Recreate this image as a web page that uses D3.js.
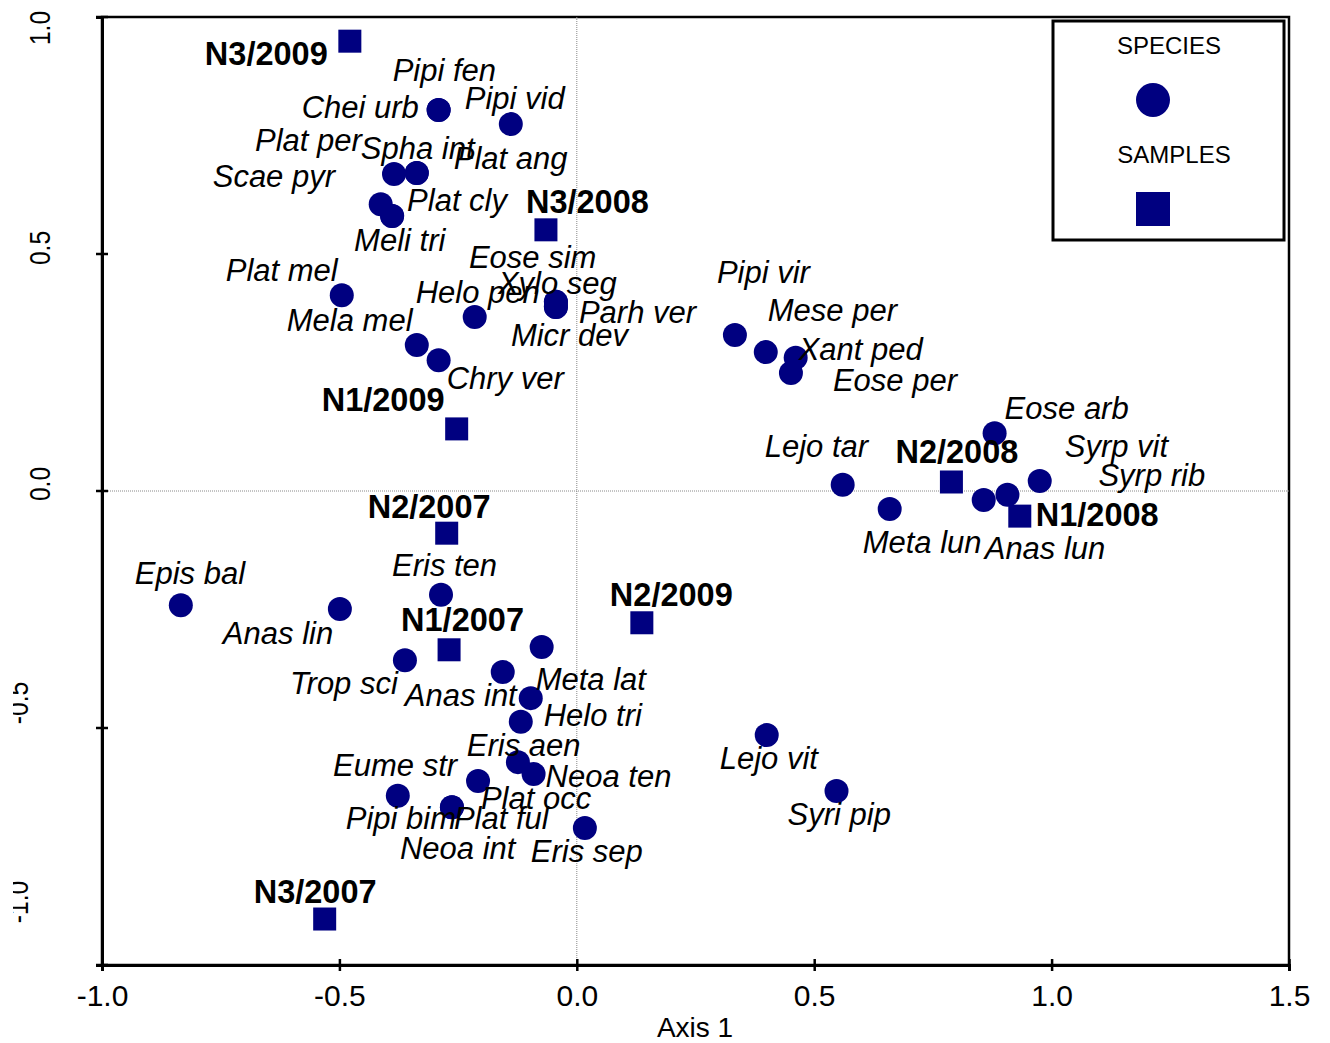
<!DOCTYPE html>
<html>
<head>
<meta charset="utf-8">
<script src="https://cdn.jsdelivr.net/npm/d3@7"></script>
<style>
  body { margin: 0; background: #fff; }
  text { font-family: "Liberation Sans", Arial, sans-serif; fill: #000; }
</style>
</head>
<body>
<div id="chart"></div>
<script>
// species scores (circles)
var speciesNames = ["Pipi fen", "Chei urb", "Pipi vid", "Plat per", "Spha int", "Plat ang", "Scae pyr",
  "Plat cly", "Meli tri", "Plat mel", "Mela mel", "Chry ver", "Helo pen", "Eose sim", "Xylo seg",
  "Parh ver", "Micr dev", "Pipi vir", "Mese per", "Xant ped", "Eose per", "Eose arb", "Lejo tar",
  "Meta lun", "Anas lun", "Syrp vit", "Syrp rib", "Epis bal", "Anas lin", "Eris ten", "Trop sci",
  "Anas int", "Meta lat", "Helo tri", "Eris aen", "Plat occ", "Neoa ten", "Eume str", "Pipi bim",
  "Plat ful", "Neoa int", "Eris sep", "Lejo vit", "Syri pip"];
var speciesX = [-0.291, -0.291, -0.139, -0.385, -0.337, -0.337, -0.413,
  -0.389, -0.389, -0.495, -0.337, -0.291, -0.215, -0.044, -0.044,
  -0.044, -0.044, 0.333, 0.398, 0.461, 0.451, 0.880, 0.560,
  0.659, 0.857, 0.975, 0.907, -0.834, -0.499, -0.286, -0.362,
  -0.156, -0.074, -0.097, -0.118, -0.124, -0.091, -0.208, -0.377,
  -0.263, -0.263, 0.017, 0.400, 0.547];
var speciesY = [0.804, 0.804, 0.774, 0.669, 0.671, 0.671, 0.605,
  0.580, 0.580, 0.413, 0.308, 0.276, 0.367, 0.399, 0.399,
  0.388, 0.388, 0.329, 0.293, 0.281, 0.249, 0.122, 0.013,
  -0.038, -0.019, 0.021, -0.008, -0.241, -0.249, -0.219, -0.357,
  -0.382, -0.329, -0.437, -0.487, -0.572, -0.597, -0.612, -0.643,
  -0.667, -0.667, -0.711, -0.515, -0.633];

// sample scores (squares)
var sampleNames = ["N3/2009", "N3/2008", "N1/2009", "N2/2008", "N1/2008",
  "N2/2007", "N1/2007", "N2/2009", "N3/2007"];
var sampleX = [-0.478, -0.065, -0.253, 0.789, 0.933, -0.274, -0.269, 0.137, -0.531];
var sampleY = [0.949, 0.551, 0.131, 0.019, -0.053, -0.089, -0.335, -0.278, -0.903];

var xTicks = [-1.0, -0.5, 0.0, 0.5, 1.0, 1.5];
var yTicks = [-1.0, -0.5, 0.0, 0.5, 1.0];

// label placement, px from marker centre to label baseline start
var speciesLabelOffset = [[-46, -29], [-137, 8], [-46, -15], [-139, -23], [-56, -14], [37, -4], [-168, -17],
  [15, -5], [-38, 35], [-116, -14], [-130, -14], [8, 29], [-59, -14], [-87, -34], [-58, -8],
  [23, 16], [-45, 39], [-18, -52], [2, -31], [3, 2], [42, 18], [10, -14], [-78, -28],
  [-27, 44], [1, 59], [25, -24], [91, -9], [-46, -21], [-117, 35], [-49, -19], [-115, 34],
  [-98, 34], [-6, 43], [13, 28], [-54, 34], [-37, 47], [12, 13], [-145, -5], [-52, 33],
  [2, 22], [-52, 52], [-54, 34], [-47, 34], [-49, 34]];
var sampleLabelOffset = [[-145, 24], [-20, -17], [-135, -18], [-56, -19], [16, 10],
  [-79, -15], [-48, -19], [-32, -17], [-71, -16]];
// y tick labels sit a bit off their ticks in the original
var yLabelShift = [-63, -25, -7, -6, 11];

var width = 1330, height = 1043;
var navy = "#000080";
var fmt = function(d) { return d.toFixed(1); };

var svg = d3.select("#chart").append("svg")
    .attr("width", width)
    .attr("height", height);

var x = d3.scaleLinear().domain([-1, 1.5]).range([102, 1289]);
var y = d3.scaleLinear().domain([-1, 1]).range([965, 17]);

// the negative y labels are cut on their left in the original
svg.append("clipPath").attr("id", "ylabclip")
  .append("rect").attr("x", 13).attr("y", 0).attr("width", width).attr("height", height);

// frame
svg.append("rect")
    .attr("x", x(-1)).attr("y", y(1))
    .attr("width", x(1.5) - x(-1)).attr("height", y(-1) - y(1))
    .attr("fill", "none").attr("stroke", "#000").attr("stroke-width", 2.5);

// zero lines
svg.append("line")
    .attr("x1", x(0)).attr("x2", x(0)).attr("y1", y(1)).attr("y2", y(-1))
    .attr("stroke", "#888").attr("stroke-width", 1).attr("stroke-dasharray", "1,1");
svg.append("line")
    .attr("x1", x(-1)).attr("x2", x(1.5)).attr("y1", y(0)).attr("y2", y(0))
    .attr("stroke", "#888").attr("stroke-width", 1).attr("stroke-dasharray", "1,1");

// x axis
var xAxis = svg.append("g")
    .attr("transform", "translate(0," + y(-1) + ")")
    .call(d3.axisBottom(x).tickValues(xTicks).tickFormat(fmt).tickSizeOuter(0).tickSize(6).tickPadding(14));
xAxis.select(".domain").attr("stroke-width", 3);
xAxis.selectAll(".tick line").attr("y1", -6).attr("y2", 6).attr("stroke-width", 2.5);
xAxis.selectAll(".tick text")
    .attr("font-family", "Liberation Sans, Arial, sans-serif")
    .attr("font-size", 30)
    .attr("dy", "0.71em");

svg.append("text")
    .attr("x", 695).attr("y", 1037)
    .attr("text-anchor", "middle")
    .attr("font-size", 28)
    .text("Axis 1");

// y axis
var yAxis = svg.append("g")
    .attr("transform", "translate(" + x(-1) + ",0)")
    .call(d3.axisLeft(y).tickValues(yTicks).tickFormat(fmt).tickSizeOuter(0).tickSize(6));
yAxis.select(".domain").attr("stroke-width", 3);
yAxis.selectAll(".tick").attr("transform", null);
yAxis.selectAll(".tick line")
    .attr("x1", -6).attr("x2", 6).attr("stroke-width", 2.5)
    .attr("transform", function(d) { return "translate(0," + y(d) + ")"; });
yAxis.selectAll(".tick text")
    .attr("x", 0).attr("dy", null)
    .attr("text-anchor", "middle")
    .attr("font-family", "Liberation Sans, Arial, sans-serif")
    .attr("font-size", 30)
    .attr("transform", function(d, i) {
      return "translate(" + (50 - x(-1)) + "," + (y(d) + yLabelShift[i]) + ") rotate(-90) scale(0.82,1)";
    });
var negTicks = yAxis.selectAll(".tick").filter(function(d) { return d < 0; })
    .attr("clip-path", "url(#ylabclip)")
    .attr("transform", "translate(" + (-x(-1)) + ",0)");
negTicks.select("line")
    .attr("transform", function(d) { return "translate(" + x(-1) + "," + y(d) + ")"; });
negTicks.select("text")
    .attr("transform", function(d) {
      var i = yTicks.indexOf(d);
      return "translate(28," + (y(d) + yLabelShift[i]) + ") rotate(-90) scale(0.82,1)";
    });

// species
var species = speciesNames.map(function(n, i) {
  return { name: n, x: speciesX[i], y: speciesY[i], off: speciesLabelOffset[i] };
});
var samples = sampleNames.map(function(n, i) {
  return { name: n, x: sampleX[i], y: sampleY[i], off: sampleLabelOffset[i] };
});

svg.append("g").selectAll("circle")
    .data(species)
  .enter().append("circle")
    .attr("cx", function(d) { return x(d.x); })
    .attr("cy", function(d) { return y(d.y); })
    .attr("r", 12)
    .attr("fill", navy);

svg.append("g").selectAll("rect")
    .data(samples)
  .enter().append("rect")
    .attr("x", function(d) { return x(d.x) - 11.5; })
    .attr("y", function(d) { return y(d.y) - 11.5; })
    .attr("width", 23).attr("height", 23)
    .attr("fill", navy);

svg.append("g").selectAll("text")
    .data(species)
  .enter().append("text")
    .attr("x", function(d) { return x(d.x) + d.off[0]; })
    .attr("y", function(d) { return y(d.y) + d.off[1]; })
    .attr("font-size", 31)
    .attr("font-style", "italic")
    .text(function(d) { return d.name; });

svg.append("g").selectAll("text")
    .data(samples)
  .enter().append("text")
    .attr("x", function(d) { return x(d.x) + d.off[0]; })
    .attr("y", function(d) { return y(d.y) + d.off[1]; })
    .attr("font-size", 32.5)
    .attr("font-weight", "bold")
    .text(function(d) { return d.name; });

// legend
var legend = svg.append("g").attr("transform", "translate(1053,21)");
legend.append("rect")
    .attr("width", 231).attr("height", 219)
    .attr("fill", "#fff").attr("stroke", "#000").attr("stroke-width", 3);
legend.append("text")
    .attr("x", 116).attr("y", 33)
    .attr("text-anchor", "middle").attr("font-size", 24)
    .text("SPECIES");
legend.append("circle")
    .attr("cx", 100).attr("cy", 79).attr("r", 17)
    .attr("fill", navy);
legend.append("text")
    .attr("x", 121).attr("y", 142)
    .attr("text-anchor", "middle").attr("font-size", 24)
    .text("SAMPLES");
legend.append("rect")
    .attr("x", 83).attr("y", 171).attr("width", 34).attr("height", 34)
    .attr("fill", navy);
</script>
</body>
</html>
